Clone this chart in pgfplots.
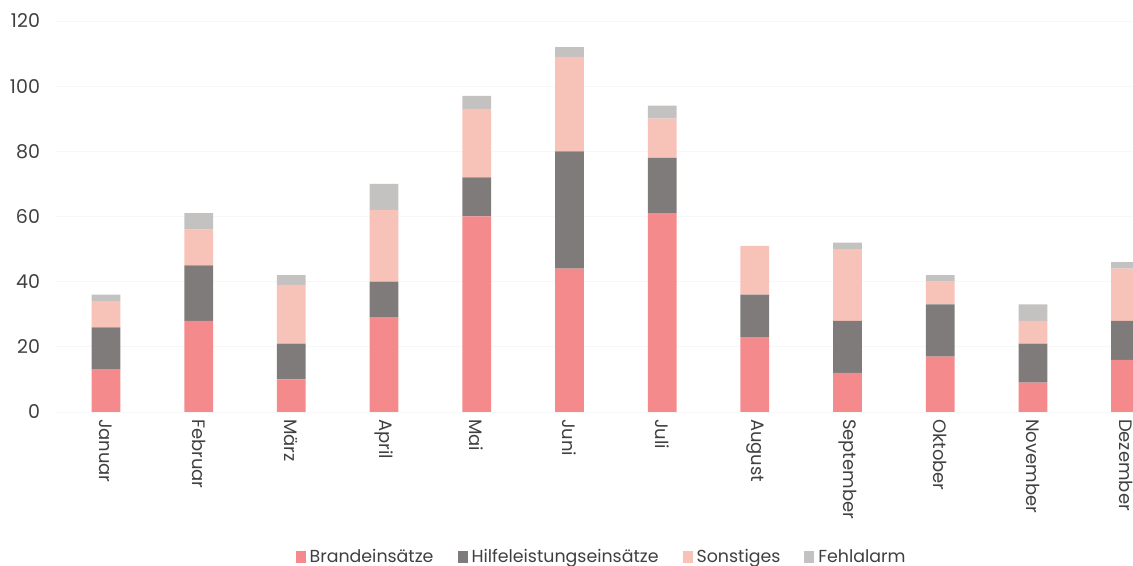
\documentclass[border=0pt]{standalone}
\usepackage{pgfplots}
\pgfplotsset{compat=1.18}
\usepackage{fontspec}
\setmainfont{Poppins}
\definecolor{brand}{HTML}{F48A8B}
\definecolor{hilfe}{HTML}{7F7B7A}
\definecolor{sonst}{HTML}{F7C2B7}
\definecolor{fehl}{HTML}{C4C1C1}
\definecolor{txt}{HTML}{404040}
\begin{document}
\begin{tikzpicture}
\begin{axis}[
  at={(27.5pt,77pt)}, anchor=south west,
  scale only axis,
  width=539pt, height=195.5pt,
  ybar stacked,
  bar width=0.31,
  xmin=-0.55, xmax=11.08,
  ymin=0, ymax=120,
  ytick={0,20,...,120},
  xtick=data,
  xticklabels={Januar,Februar,März,April,Mai,Juni,Juli,August,September,Oktober,November,Dezember},
  x tick label style={rotate=-90, anchor=west, font=\fontsize{9}{11}\selectfont, text=txt},
  y tick label style={font=\fontsize{9.5}{11}\selectfont, text=txt, xshift=-4pt},
  /pgf/number format/assume math mode=true,
  axis line style={draw=none},
  major tick length=0pt,
  ymajorgrids, grid style={black!3},
  legend columns=-1,
  legend style={at={(0.508,-0.372)}, anchor=center, draw=none,
    font=\fontsize{8.7}{10}\selectfont, text=txt,
    /tikz/every even column/.append style={column sep=10pt}},
  legend image code/.code={\fill[#1] (0pt,-3pt) rectangle (5pt,3pt);},
  clip=true,
]
\addplot[fill=brand, draw=none] coordinates {(0,13) (1,28) (2,10) (3,29) (4,60) (5,44) (6,61) (7,23) (8,12) (9,17) (10,9) (11,16)};
\addplot[fill=hilfe, draw=none] coordinates {(0,13) (1,17) (2,11) (3,11) (4,12) (5,36) (6,17) (7,13) (8,16) (9,16) (10,12) (11,12)};
\addplot[fill=sonst, draw=none] coordinates {(0,8) (1,11) (2,18) (3,22) (4,21) (5,29) (6,12) (7,15) (8,22) (9,7) (10,7) (11,16)};
\addplot[fill=fehl, draw=none] coordinates {(0,2) (1,5) (2,3) (3,8) (4,4) (5,3) (6,4) (7,0) (8,2) (9,2) (10,5) (11,2)};
\legend{Brandeinsätze,Hilfeleistungseinsätze,Sonstiges,Fehlalarm}
\end{axis}
\pgfresetboundingbox
\path[use as bounding box] (0,0) rectangle (566.5pt,283pt);
\end{tikzpicture}
\end{document}
